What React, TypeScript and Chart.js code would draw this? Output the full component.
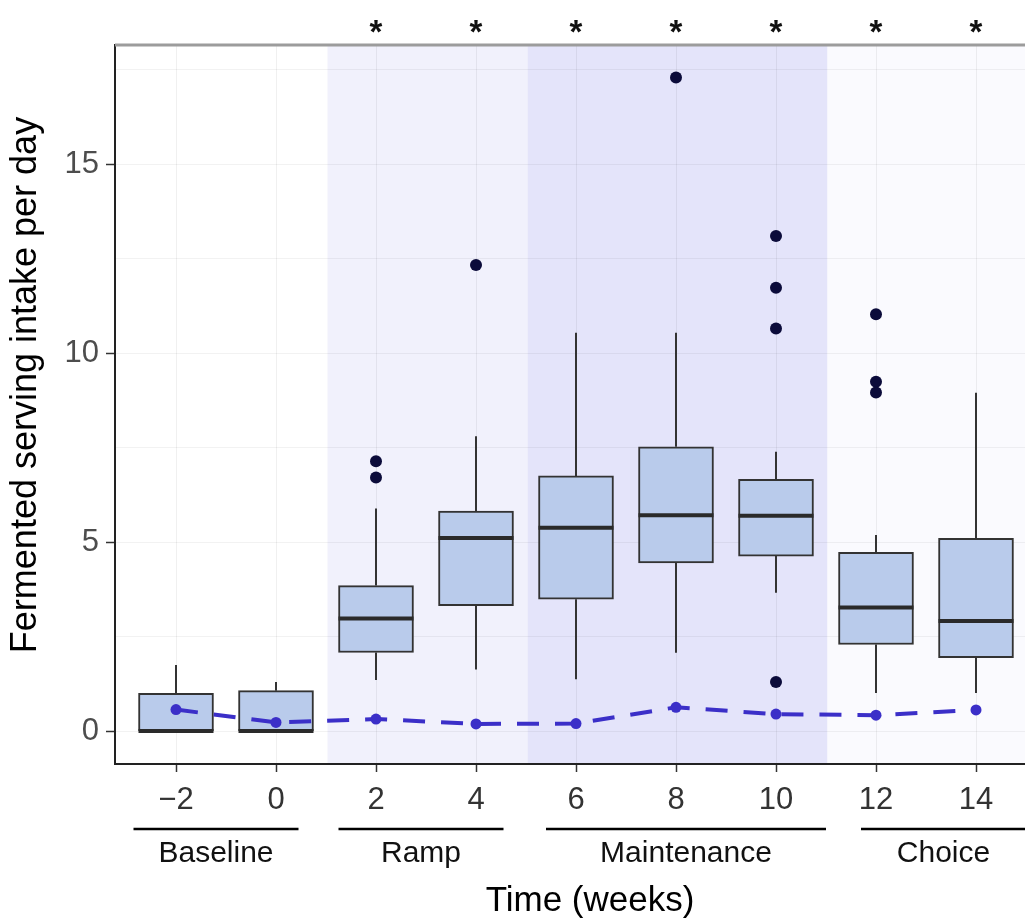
import React, { useEffect, useRef } from "react";
import { Chart, registerables } from "chart.js";

Chart.register(...registerables);

// ---- data ----
const weeks = [-2, 0, 2, 4, 6, 8, 10, 12, 14];
const q1 = [0, 0, 2.08, 3.32, 3.49, 4.45, 4.63, 2.29, 1.94];
const medians = [0, 0, 2.98, 5.11, 5.38, 5.71, 5.7, 3.27, 2.91];
const q3 = [1.0, 1.07, 3.85, 5.82, 6.75, 7.52, 6.66, 4.73, 5.1];
const whiskerLow = [0, 0, 1.35, 1.63, 1.37, 2.07, 3.66, 1.01, 1.01];
const whiskerHigh = [1.75, 1.3, 5.89, 7.8, 10.54, 10.54, 7.39, 5.19, 8.95];
const means = [0.57, 0.23, 0.32, 0.19, 0.2, 0.63, 0.45, 0.42, 0.56];
const significant = [false, false, true, true, true, true, true, true, true];

const outlierWeeks = [2, 2, 4, 8, 10, 10, 10, 10, 12, 12, 12];
const outlierValues = [7.14, 6.71, 12.33, 17.29, 13.1, 11.73, 10.65, 1.3, 11.03, 9.24, 8.96];

const phaseNames = ["Baseline", "Ramp", "Maintenance", "Choice"];
const phaseStarts = [-2.85, 1.25, 5.4, 11.7];
const phaseEnds = [0.45, 4.55, 11.0, 15.0];

const shadeStarts = [1.03, 5.03, 11.03];
const shadeEnds = [5.03, 11.03, 17];
const shadeColors = ["#F1F1FC", "#E4E4FA", "#FAFAFE"];

const yTicks = [0, 2.5, 5, 7.5, 10, 12.5, 15, 17.5];
const yTitle = "Fermented serving intake per day";
const xTitle = "Time (weeks)";

const FONT = "'Liberation Sans', Arial, Helvetica, sans-serif";
const BOX_WIDTH_PX = 75;
const BAR_INDEX = 2;
const CANVAS_W = 1032;
const VIEW_W = 1025;
const VIEW_H = 921;

const extrasPlugin = {
  id: "boxExtras",
  beforeDraw(chart: any) {
    const { ctx, chartArea, scales } = chart;
    const xs = scales.x;
    ctx.save();
    ctx.beginPath();
    ctx.rect(chartArea.left, chartArea.top, chartArea.right - chartArea.left, chartArea.bottom - chartArea.top);
    ctx.clip();
    ctx.fillStyle = "#ffffff";
    ctx.fillRect(chartArea.left, chartArea.top, chartArea.right - chartArea.left, chartArea.bottom - chartArea.top);
    for (let i = 0; i < shadeStarts.length; i++) {
      const x0 = xs.getPixelForValue(shadeStarts[i]);
      const x1 = xs.getPixelForValue(shadeEnds[i]);
      ctx.fillStyle = shadeColors[i];
      ctx.fillRect(x0, chartArea.top, x1 - x0, chartArea.bottom - chartArea.top);
    }
    ctx.restore();
  },
  afterDatasetDraw(chart: any, args: any) {
    if (args.index !== BAR_INDEX) return;
    const { ctx, scales, chartArea } = chart;
    const xs = scales.x;
    const ys = scales.y;
    ctx.save();
    ctx.beginPath();
    ctx.rect(chartArea.left, chartArea.top, chartArea.right - chartArea.left, chartArea.bottom - chartArea.top);
    ctx.clip();
    ctx.strokeStyle = "#333333";
    ctx.lineWidth = 2;
    for (let i = 0; i < weeks.length; i++) {
      const x = xs.getPixelForValue(weeks[i]);
      if (whiskerHigh[i] > q3[i]) {
        ctx.beginPath();
        ctx.moveTo(x, ys.getPixelForValue(q3[i]));
        ctx.lineTo(x, ys.getPixelForValue(whiskerHigh[i]));
        ctx.stroke();
      }
      if (whiskerLow[i] < q1[i]) {
        ctx.beginPath();
        ctx.moveTo(x, ys.getPixelForValue(q1[i]));
        ctx.lineTo(x, ys.getPixelForValue(whiskerLow[i]));
        ctx.stroke();
      }
    }
    ctx.strokeStyle = "#2a2a2a";
    ctx.lineWidth = 4;
    for (let i = 0; i < weeks.length; i++) {
      const x = xs.getPixelForValue(weeks[i]);
      const y = ys.getPixelForValue(medians[i]);
      ctx.beginPath();
      ctx.moveTo(x - BOX_WIDTH_PX / 2, y);
      ctx.lineTo(x + BOX_WIDTH_PX / 2, y);
      ctx.stroke();
    }
    ctx.restore();
  },
  afterDraw(chart: any) {
    const { ctx, scales, chartArea } = chart;
    const xs = scales.x;
    ctx.save();
    // top panel border
    ctx.strokeStyle = "#9c9c9c";
    ctx.lineWidth = 3;
    ctx.beginPath();
    ctx.moveTo(chartArea.left, chartArea.top);
    ctx.lineTo(chart.width, chartArea.top);
    ctx.stroke();
    // significance stars
    ctx.fillStyle = "#111111";
    ctx.font = `bold 33px ${FONT}`;
    ctx.textAlign = "center";
    ctx.textBaseline = "alphabetic";
    for (let i = 0; i < weeks.length; i++) {
      if (!significant[i]) continue;
      ctx.fillText("*", xs.getPixelForValue(weeks[i]), 43);
    }
    // phase brackets
    ctx.strokeStyle = "#000000";
    ctx.lineWidth = 2.5;
    ctx.font = `30px ${FONT}`;
    ctx.fillStyle = "#111111";
    for (let i = 0; i < phaseNames.length; i++) {
      const x0 = xs.getPixelForValue(phaseStarts[i]);
      const x1 = xs.getPixelForValue(phaseEnds[i]);
      ctx.beginPath();
      ctx.moveTo(x0, 829);
      ctx.lineTo(x1, 829);
      ctx.stroke();
      ctx.fillText(phaseNames[i], (x0 + x1) / 2, 862);
    }
    // axis titles
    ctx.fillStyle = "#000000";
    ctx.font = `35px ${FONT}`;
    ctx.textAlign = "center";
    ctx.textBaseline = "alphabetic";
    ctx.fillText(xTitle, 590, 911);
    ctx.translate(26, 385);
    ctx.rotate(-Math.PI / 2);
    ctx.font = `36px ${FONT}`;
    ctx.textBaseline = "middle";
    ctx.fillText(yTitle, 0, 0);
    ctx.restore();
  },
};

export default function App() {
  const ref = useRef<HTMLCanvasElement>(null);
  useEffect(() => {
    if (!ref.current) return;
    Chart.defaults.font.family = FONT;
    const chart = new Chart(ref.current, {
      type: "bar",
      data: {
        datasets: [
          {
            type: "line",
            data: weeks.map((w, i) => ({ x: w, y: means[i] })),
            borderColor: "#3b2fc8",
            backgroundColor: "#3b2fc8",
            borderWidth: 4,
            borderDash: [22, 16],
            pointRadius: 5.5,
            pointBackgroundColor: "#3b2fc8",
            pointBorderWidth: 0,
            tension: 0,
            fill: false,
          } as any,
          {
            type: "scatter",
            data: outlierWeeks.map((w, i) => ({ x: w, y: outlierValues[i] })),
            backgroundColor: "#0b0b3a",
            borderWidth: 0,
            pointRadius: 6,
          } as any,
          {
            type: "bar",
            data: weeks.map((w, i) => ({ x: w, y: [q1[i], q3[i]] })),
            backgroundColor: "#B9CBEB",
            borderColor: "#333333",
            borderWidth: 2,
            borderSkipped: false,
            barThickness: BOX_WIDTH_PX,
          } as any,
        ],
      },
      options: {
        animation: false,
        responsive: false,
        devicePixelRatio: 1,
        layout: { padding: { top: 45, left: 0, right: 0, bottom: 0 } },
        plugins: { legend: { display: false }, tooltip: { enabled: false } },
        scales: {
          x: {
            type: "linear",
            offset: false,
            min: -3.22,
            max: 15.0,
            afterBuildTicks: (s: any) => {
              s.ticks = weeks.map((v) => ({ value: v }));
            },
            afterFit: (s: any) => {
              s.height = 157;
            },
            ticks: {
              callback: (v: any) => (v < 0 ? "\u2212" + Math.abs(v) : String(v)),
              font: { size: 31 },
              color: "#333333",
              padding: 10,
              maxRotation: 0,
              autoSkip: false,
            },
            grid: {
              offset: false,
              color: "rgba(0,0,0,0.06)",
              tickLength: 8,
              tickColor: "#333333",
              tickWidth: 1.5,
            },
            border: { color: "#222222", width: 2 },
            title: { display: false },
          },
          y: {
            type: "linear",
            min: -0.87,
            max: 18.15,
            afterBuildTicks: (s: any) => {
              s.ticks = yTicks.map((v) => ({ value: v }));
            },
            afterFit: (s: any) => {
              s.width = 115;
            },
            ticks: {
              callback: (v: any) => (v % 5 === 0 ? String(v) : ""),
              font: { size: 31 },
              color: "#4d4d4d",
              padding: 7,
              autoSkip: false,
            },
            grid: {
              color: "rgba(0,0,0,0.05)",
              tickLength: 9,
              tickColor: (c: any) => (c.tick && c.tick.value % 5 === 0 ? "#333333" : "rgba(0,0,0,0)"),
              tickWidth: 1.5,
            },
            border: { color: "#222222", width: 2 },
            title: { display: false },
          },
        },
      },
      plugins: [extrasPlugin],
    } as any);
    return () => chart.destroy();
  }, []);
  return (
    <div
      style={{
        position: "fixed",
        left: 0,
        top: 0,
        width: VIEW_W,
        height: VIEW_H,
        overflow: "hidden",
        background: "#ffffff",
      }}
    >
      <canvas
        ref={ref}
        width={CANVAS_W}
        height={VIEW_H}
        style={{ width: CANVAS_W, height: VIEW_H, display: "block" }}
      />
    </div>
  );
}
